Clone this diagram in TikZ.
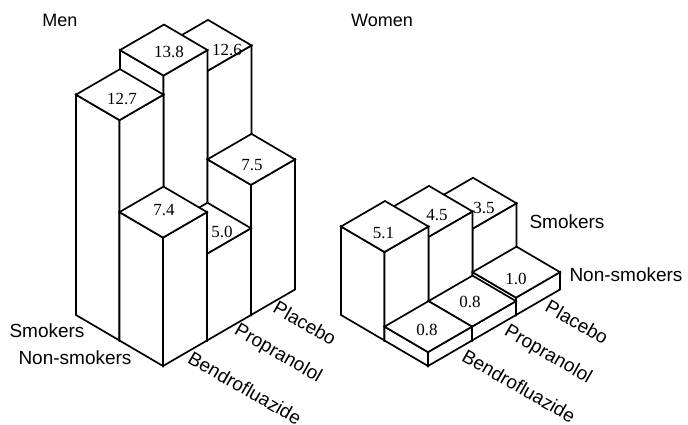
\documentclass[tikz,border=0pt]{standalone}
\usepackage{fontspec}
\setmainfont{Liberation Sans}
\newfontfamily\numfont{Liberation Serif}
\tikzset{
  barface/.style={draw=black, fill=white, line width=1.7pt, line join=miter},
  val/.style={font=\numfont\fontsize{17}{17}\selectfont, inner sep=0pt},
  lab/.style={font=\fontsize{19}{19}\selectfont, inner sep=0pt},
  ttl/.style={font=\fontsize{18}{18}\selectfont, inner sep=0pt},
}
\newcommand\drawbar[5]{%
  \pgfmathsetmacro\fx{#1+44*#3-43.5*#4}%
  \pgfmathsetmacro\fy{#2-25.5*#3-25.5*#4}%
  \pgfmathsetmacro\hh{17.35*#5}%
  \filldraw[barface] (\fx,\fy) -- ++(0,-\hh) -- ++(-43.5,-25.5) -- ++(0,\hh) -- cycle;
  \filldraw[barface] (\fx,\fy) -- ++(44,-25.5) -- ++(0,-\hh) -- ++(-44,25.5) -- cycle;
  \filldraw[barface] (\fx,\fy) ++(0,-\hh) -- ++(44,-25.5) -- ++(-43.5,-25.5) -- ++(-44,25.5) -- cycle;
}
\begin{document}
\begin{tikzpicture}[x=1pt,y=-1pt]
\useasboundingbox (0,0) rectangle (688,425);
% Men
\drawbar{163}{366}{2}{1}{12.6}
\drawbar{163}{366}{1}{1}{13.8}
\drawbar{163}{366}{2}{0}{7.5}
\drawbar{163}{366}{0}{1}{12.7}
\drawbar{163}{366}{1}{0}{5.0}
\drawbar{163}{366}{0}{0}{7.4}
% Women
\drawbar{428}{366}{2}{1}{3.5}
\drawbar{428}{366}{1}{1}{4.5}
\drawbar{428}{366}{2}{0}{1.0}
\drawbar{428}{366}{0}{1}{5.1}
\drawbar{428}{366}{1}{0}{0.8}
\drawbar{428}{366}{0}{0}{0.8}
% values men
\node[val] (m127) at (122,99) {12.7};
\node[val] (m138) at (169,52) {13.8};
\node[val] (m126) at (227,50) {12.6};
\node[val] (m75) at (252,165) {7.5};
\node[val] (m74) at (164,210) {7.4};
\node[val] (m50) at (222,232) {5.0};
% values women
\node[val] (w51) at (383.5,233) {5.1};
\node[val] (w45) at (437,215) {4.5};
\node[val] (w35) at (484,208) {3.5};
\node[val] (w08a) at (427,330) {0.8};
\node[val] (w08b) at (470,302) {0.8};
\node[val] (w10) at (516,278.5) {1.0};
% titles
\node[ttl] (men) at (60,20) {Men};
\node[ttl] (women) at (382,20) {Women};
% men axis labels
\node[lab] (msm) at (47,331) {Smokers};
\node[lab] (mns) at (75,358) {Non-smokers};
\node[lab, rotate=-30] (mben) at (245,388) {Bendrofluazide};
\node[lab, rotate=-30] (mpro) at (278,354) {Propranolol};
\node[lab, rotate=-30] (mpla) at (305,323) {Placebo};
% women axis labels
\node[lab] (wsm) at (567,222) {Smokers};
\node[lab] (wns) at (626,275) {Non-smokers};
\node[lab, rotate=-30] (wben) at (519,386) {Bendrofluazide};
\node[lab, rotate=-30] (wpro) at (548,355) {Propranolol};
\node[lab, rotate=-30] (wpla) at (577,322) {Placebo};
\end{tikzpicture}
\end{document}
